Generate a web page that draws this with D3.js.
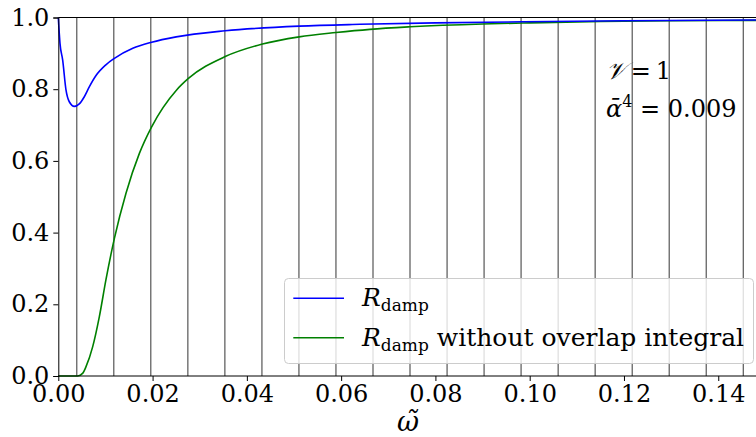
<!DOCTYPE html>
<html>
<head>
<meta charset="utf-8">
<script src="https://cdn.jsdelivr.net/npm/d3@7"></script>
<style>
  body { margin: 0; background: #fff; }
  svg text { font-family: "DejaVu Serif", serif; fill: #000; }
</style>
</head>
<body>
<svg id="chart" width="756" height="437"></svg>
<script>
// frequency grid (vertical lines)
var modeOmega = [0.00393, 0.01178, 0.01963, 0.02749, 0.03534, 0.04320, 0.05105, 0.05890,
  0.06676, 0.07461, 0.08247, 0.09032, 0.09817, 0.10603, 0.11388, 0.12174, 0.12959,
  0.13744, 0.14530];

// R_damp
var dampOmega = [0, 0.00036, 0.00093, 0.00163, 0.00233, 0.0034, 0.00445, 0.00552, 0.0066,
  0.008, 0.0101, 0.0119, 0.0158, 0.0198, 0.025, 0.0354, 0.0511, 0.064, 0.08, 0.0983,
  0.12, 0.1485];
var dampValue = [1.0, 0.928, 0.881, 0.798, 0.765, 0.752, 0.759, 0.779, 0.807,
  0.838, 0.868, 0.886, 0.914, 0.931, 0.946, 0.963, 0.976, 0.981, 0.985, 0.988,
  0.991, 0.993];

// R_damp without overlap integral
var noOverlapOmega = [0, 0.0041, 0.0052, 0.00588, 0.0073, 0.0087, 0.0101, 0.0119, 0.01436,
  0.0172, 0.0198, 0.0251, 0.0276, 0.0354, 0.0433, 0.0511, 0.0589, 0.0661, 0.0746,
  0.09, 0.1, 0.115, 0.13, 0.1485];
var noOverlapValue = [0, 0, 0.008, 0.026, 0.082, 0.165, 0.268, 0.384, 0.51,
  0.621, 0.695, 0.798, 0.830, 0.891, 0.926, 0.946, 0.958, 0.967, 0.974,
  0.982, 0.985, 0.989, 0.991, 0.992];

var xTicks = [0, 0.02, 0.04, 0.06, 0.08, 0.10, 0.12, 0.14];
var yTicks = [0, 0.2, 0.4, 0.6, 0.8, 1.0];

var svg = d3.select('#chart');

var plotLeft = 58.3, plotTop = 17.5, plotBottom = 376;
var x = d3.scaleLinear().domain([0, 0.1485]).range([plotLeft, plotLeft + 0.1485 * 4714]);
var y = d3.scaleLinear().domain([0, 1]).range([plotBottom, plotTop]);

var plot = svg.append('g');

// vertical lines
plot.selectAll('line.mode')
  .data(modeOmega).enter()
  .append('line')
    .attr('class', 'mode')
    .attr('x1', function(d) { return x(d); })
    .attr('x2', function(d) { return x(d); })
    .attr('y1', y(0))
    .attr('y2', y(1))
    .attr('stroke', '#000')
    .attr('stroke-opacity', 0.8)
    .attr('stroke-width', 1);

var line = d3.line()
  .x(function(d) { return x(d[0]); })
  .y(function(d) { return y(d[1]); })
  .curve(d3.curveMonotoneX);

plot.append('path')
  .datum(d3.zip(noOverlapOmega, noOverlapValue))
  .attr('d', line)
  .attr('fill', 'none')
  .attr('stroke', '#008000')
  .attr('stroke-width', 1.6);

plot.append('path')
  .datum(d3.zip(dampOmega, dampValue))
  .attr('d', line)
  .attr('fill', 'none')
  .attr('stroke', '#0000ff')
  .attr('stroke-width', 1.6);

// top spine
svg.append('line')
  .attr('x1', plotLeft).attr('x2', 756).attr('y1', plotTop).attr('y2', plotTop)
  .attr('stroke', '#000').attr('stroke-width', 1);

// axes
var xAxis = svg.append('g')
  .attr('transform', 'translate(0,' + plotBottom + ')')
  .call(d3.axisBottom(x).tickValues(xTicks).tickFormat(d3.format('.2f')).tickSize(5).tickPadding(4));
var yAxis = svg.append('g')
  .attr('transform', 'translate(' + plotLeft + ',0)')
  .call(d3.axisLeft(y).tickValues(yTicks).tickFormat(d3.format('.1f')).tickSize(5).tickPadding(4));

[xAxis, yAxis].forEach(function(a) {
  a.select('.domain').attr('stroke', '#000').attr('stroke-width', 1);
  a.selectAll('.tick line').attr('stroke', '#000');
  a.selectAll('.tick text')
    .style('font-family', '"DejaVu Serif", serif')
    .style('font-size', '24px')
    .attr('fill', '#000');
});
xAxis.select('.domain').attr('d', 'M' + plotLeft + ',0H756');

// x label
svg.append('text')
  .attr('x', 408)
  .attr('y', 431)
  .attr('text-anchor', 'middle')
  .style('font-size', '27px')
  .style('font-style', 'italic')
  .text('ω̃');

// annotation
var note = svg.append('text').style('font-size', '24px');
note.append('tspan').attr('x', 606).attr('y', 79).style('font-style', 'italic').text('𝒱');
note.append('tspan').text('\u2009=\u20091');
var note2 = svg.append('text').style('font-size', '24px');
note2.append('tspan').attr('x', 606).attr('y', 117).style('font-style', 'italic').text('ᾱ');
note2.append('tspan').attr('dy', -10).style('font-size', '16px').text('4');
note2.append('tspan').attr('dy', 10).text(' = 0.009');

// legend
var legend = svg.append('g');
legend.append('rect')
  .attr('x', 284.5).attr('y', 278.5)
  .attr('width', 469).attr('height', 85)
  .attr('rx', 4)
  .attr('fill', '#fff').attr('fill-opacity', 0.8)
  .attr('stroke', '#cccccc').attr('stroke-width', 1);

var legendItems = [
  { color: '#0000ff', extra: '', y: 298.3 },
  { color: '#008000', extra: ' without overlap integral', y: 337.7 }
];
legendItems.forEach(function(item) {
  legend.append('line')
    .attr('x1', 293.3).attr('x2', 344)
    .attr('y1', item.y).attr('y2', item.y)
    .attr('stroke', item.color).attr('stroke-width', 1.6);
  var t = legend.append('text')
    .attr('x', 362).attr('y', item.y + 8)
    .style('font-size', '25px');
  t.append('tspan').style('font-style', 'italic').text('R');
  t.append('tspan').attr('dy', 5).style('font-size', '17px').text('damp');
  t.append('tspan').attr('dy', -5).text(item.extra);
});
</script>
</body>
</html>
